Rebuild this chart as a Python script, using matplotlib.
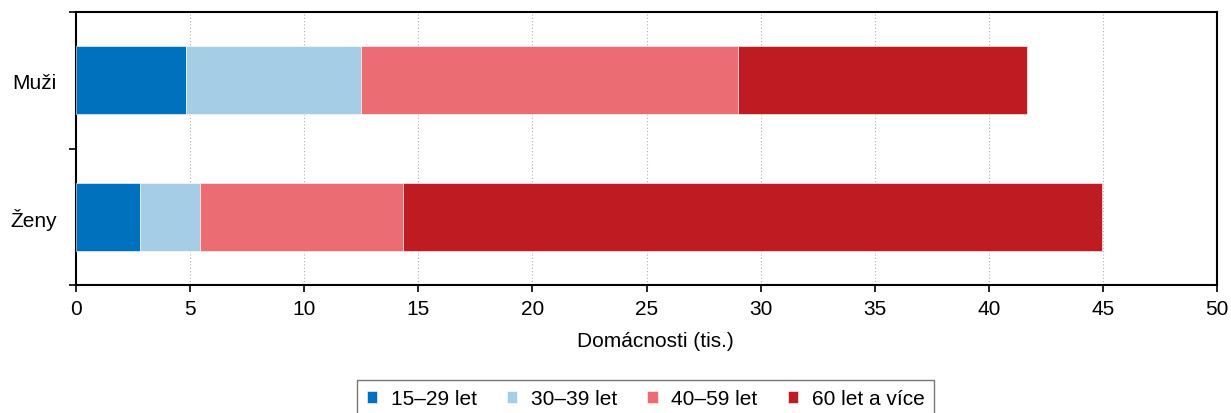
import numpy as np
import matplotlib.pyplot as plt

plt.rcParams['font.family'] = ['Liberation Sans', 'DejaVu Sans']

# Households (thousands) by sex and age group
groups = ["Muži", "Ženy"]
age_labels = ["15–29 let", "30–39 let", "40–59 let", "60 let a více"]
v_15_29 = [4.82, 2.80]
v_30_39 = [7.67, 2.63]
v_40_59 = [16.52, 8.90]
v_60 = [12.65, 30.64]
colors = ["#0071BC", "#A6CDE6", "#EB6C73", "#BE1B22"]

fig = plt.figure(figsize=(12.31, 4.14), dpi=100)
ax = fig.add_axes([76 / 1231, 1 - 286 / 414, (1217 - 76) / 1231, (286 - 13) / 414])

y = np.arange(len(groups))
left = np.zeros(len(groups))
for vals, lab, col in zip([v_15_29, v_30_39, v_40_59, v_60], age_labels, colors):
    ax.barh(y, vals, left=left, height=0.5, color=col, label=lab,
            edgecolor="white", linewidth=0.4, zorder=3)
    left += np.array(vals)

fs = 15
ax.set_xlim(0, 50)
ax.set_ylim(1.5, -0.5)
ax.set_xticks(np.arange(0, 51, 5))
ax.set_yticks(y)
ax.set_yticklabels(groups)
ax.set_yticks([-0.5, 0.5, 1.5], minor=True)
ax.tick_params(axis="y", which="major", length=0, pad=14, labelsize=fs)
ax.tick_params(axis="y", which="minor", length=5, width=1.2, direction="out")
ax.tick_params(axis="x", length=5, width=1.2, direction="out", labelsize=fs, pad=5)
ax.xaxis.grid(True, linestyle=(0, (1, 2)), color="#b0b0b0", linewidth=0.8, zorder=0)
ax.set_axisbelow(True)
for s in ax.spines.values():
    s.set_linewidth(1.5)
ax.set_xlabel("Domácnosti (tis.)", fontsize=fs, labelpad=8)
ax.xaxis.set_label_coords(0.508, -0.17)

leg = fig.legend(loc="upper center", bbox_to_anchor=(0.5245, 1 - 381 / 414), ncol=4,
                 frameon=True, fancybox=False, fontsize=fs, handlelength=0.5,
                 handleheight=0.5, handletextpad=0.65, columnspacing=1.45,
                 borderpad=0.45, borderaxespad=0)
leg.get_frame().set_edgecolor("#555555")
leg.get_frame().set_linewidth(1.0)

fig.savefig("out.png", dpi=100)
